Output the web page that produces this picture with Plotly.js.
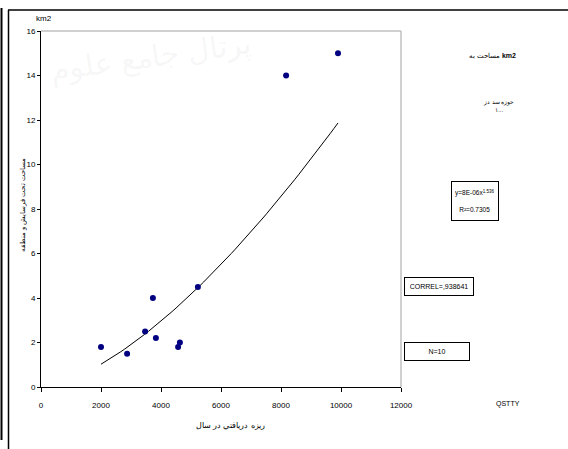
<!DOCTYPE html>
<html><head><meta charset="utf-8">
<script src="https://cdn.plot.ly/plotly-3.0.1.min.js"></script>
<style>html,body{margin:0;padding:0;background:#fff}</style>
</head><body><div id="chart" style="width:568px;height:449px"></div>
<script>
const sediment = [2000, 2870, 3470, 3730, 3830, 4570, 4630, 5230, 8170, 9900];
const area = [1.8, 1.5, 2.5, 4.0, 2.2, 1.8, 2.0, 4.5, 14.0, 15.0];
const xTicks = [0, 2000, 4000, 6000, 8000, 10000, 12000];
const yTicks = [0, 2, 4, 6, 8, 10, 12, 14, 16];

// power trendline fitted in log-log space (as a spreadsheet does)
const lx = sediment.map(Math.log), ly = area.map(Math.log);
const n = lx.length;
const mx = lx.reduce((a,b)=>a+b,0)/n, my = ly.reduce((a,b)=>a+b,0)/n;
let sxy=0, sxx=0;
for (let i=0;i<n;i++){ sxy+=(lx[i]-mx)*(ly[i]-my); sxx+=(lx[i]-mx)**2; }
const b = sxy/sxx, a = Math.exp(my - b*mx);
const xmin = Math.min(...sediment), xmax = Math.max(...sediment);
const tx = [], ty = [];
for (let i=0;i<=60;i++){ const x = xmin + (xmax-xmin)*i/60; tx.push(x); ty.push(a*Math.pow(x,b)); }

// pixel -> paper helpers (plot area: x 41..401, y 31..387)
const PX = p => (p-41)/360, PY = p => (387-p)/356;

const F = "Liberation Sans Narrow, Liberation Sans, Arial, sans-serif";
const K = '#000';
const data = [
  {x: tx, y: ty, mode:'lines', line:{color:'#000', width:1}, hoverinfo:'skip'},
  {x: sediment, y: area, mode:'markers', marker:{color:'#000080', size:6, symbol:'circle'}}
];
const ann = (text, x, y, size, extra) => Object.assign({text, xref:'paper', yref:'paper', x:PX(x), y:PY(y),
  xanchor:'center', yanchor:'middle', showarrow:false, font:{family:F, size, color:K}}, extra||{});
const layout = {
  width:568, height:449, showlegend:false,
  paper_bgcolor:'#fff', plot_bgcolor:'#fff',
  margin:{l:41, r:167, t:31, b:62},
  font:{family:F, size:8, color:K},
  xaxis:{range:[0,12000], tickvals:xTicks, ticktext:xTicks.map(String), showgrid:false, zeroline:false,
         showline:true, linecolor:'#000', linewidth:1, ticks:'outside', ticklen:4, tickcolor:'#000',
         ticklabelstandoff:6, tickfont:{family:F, size:8, color:K}},
  yaxis:{range:[0,16], tickvals:yTicks, ticktext:yTicks.map(String), showgrid:false, zeroline:false,
         showline:true, linecolor:'#000', linewidth:1, ticks:'outside', ticklen:3, tickcolor:'#000',
         tickfont:{family:F, size:8, color:K}},
  shapes:[
    {type:'line', xref:'paper', yref:'paper', x0:0, x1:1, y0:1, y1:1, line:{color:'#c0c0c0', width:1.5}},
    {type:'line', xref:'paper', yref:'paper', x0:1, x1:1, y0:0, y1:1, line:{color:'#c0c0c0', width:1.5}},
    {type:'line', xref:'paper', yref:'paper', x0:PX(8), x1:PX(570), y0:PY(10), y1:PY(10), line:{color:'#000', width:1.5}},
    {type:'line', xref:'paper', yref:'paper', x0:PX(8.5), x1:PX(8.5), y0:PY(10), y1:PY(450), line:{color:'#000', width:1.5}},
    {type:'line', xref:'paper', yref:'paper', x0:PX(1.5), x1:PX(1.5), y0:PY(8), y1:PY(440), line:{color:'#000', width:2}}
  ],
  annotations:[
    ann('پرتال جامع علوم', 150, 55, 30, {font:{family:'Noto Sans', size:30, color:'rgba(0,0,0,0.05)'}, textangle:-8}),
    ann('km2', 44, 18, 8),
    ann('مساحت تحت فرسایش و منطقه', 23, 205, 7, {textangle:-90}),
    ann('ريزه دريافتي در سال', 230, 425, 8),
    ann('QSTTY', 508, 404, 7),
    ann('مساحت به <b>km2</b>', 492, 55, 7),
    ann('حوزه سد دز<br>۱...', 498, 106, 6),
    ann('y=8E-06x<sup>1.536</sup><br><br>R²=0.7305', 475, 201, 6.5, {bordercolor:'#000', borderwidth:1, borderpad:3, height:32, bgcolor:'#fff'}),
    ann('CORREL=,938641', 438.5, 286, 7, {bordercolor:'#000', borderwidth:1, borderpad:5, width:58, bgcolor:'#fff'}),
    ann('N=10', 436.5, 351.5, 7, {bordercolor:'#000', borderwidth:1, borderpad:5, width:54, bgcolor:'#fff'})
  ]
};
Plotly.newPlot('chart', data, layout, {displayModeBar:false, staticPlot:true});
</script></body></html>
